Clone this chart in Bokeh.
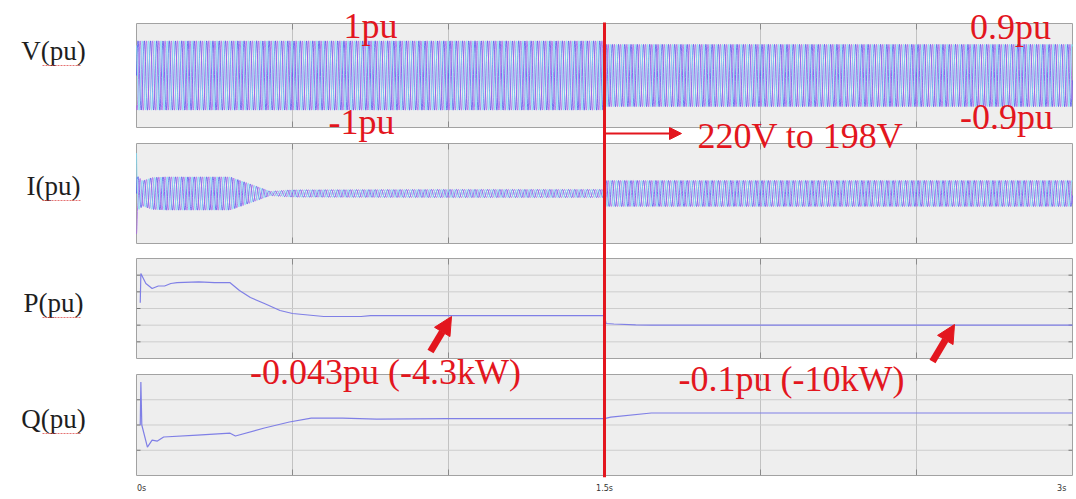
import numpy as np
from bokeh.plotting import figure
from bokeh.models import Range1d, Arrow, NormalHead, FixedTicker, CustomJSTickFormatter
from bokeh.core.properties import value
from bokeh.embed import file_html
from bokeh.resources import INLINE

# ---------------- data ----------------
time_span = [0.0, 3.0]
grid_t = [0.5, 1.0, 1.5, 2.0, 2.5]
step_time = 1.5
freq_hz = 50.0
sample_dt = 0.0007

# voltage envelope (pu)
v_env_t = [0.0, 1.5, 1.5001, 3.0]
v_env_amp = [1.0, 1.0, 0.9, 0.9]

# current envelope (pu)
i_env_t = [0.0, 0.003, 0.02, 0.05, 0.09, 0.30, 0.36, 0.43, 0.50, 1.0, 1.5, 1.5001, 1.55, 3.0]
i_env_amp = [1.4, 0.52, 0.38, 0.48, 0.50, 0.50, 0.30, 0.06, 0.11, 0.12, 0.12, 0.39, 0.39, 0.39]

# active power (pu)
p_t = [0.012, 0.014, 0.03, 0.05, 0.07, 0.09, 0.11, 0.13, 0.2, 0.25, 0.3, 0.33, 0.365,
       0.41, 0.46, 0.5, 0.6, 0.72, 0.75, 1.0, 1.3, 1.5, 1.505, 1.53, 1.6, 1.65, 2.0, 3.0]
p_val = [0.035, 0.21, 0.15, 0.12, 0.135, 0.135, 0.15, 0.155, 0.16, 0.155, 0.155, 0.108, 0.066,
         0.03, -0.012, -0.03, -0.048, -0.048, -0.043, -0.043, -0.043, -0.043, -0.09, -0.093,
         -0.098, -0.1, -0.1, -0.1]

# reactive power (pu)
q_t = [0.012, 0.014, 0.017, 0.035, 0.05, 0.067, 0.087, 0.195, 0.3, 0.317, 0.41, 0.49,
       0.56, 0.66, 0.77, 1.0, 1.5, 1.52, 1.65, 2.0, 3.0]
q_val = [0.0, 0.34, 0.0, -0.175, -0.12, -0.127, -0.095, -0.08, -0.065, -0.087, -0.024, 0.024,
         0.055, 0.055, 0.047, 0.05, 0.05, 0.063, 0.095, 0.095, 0.095]

p_grid = [-0.2, -0.1, 0.0, 0.1, 0.2]
q_grid = [-0.2, 0.0, 0.2]
x_ticks = [0, 1.5, 3]
panel_labels = ["V(pu)", "I(pu)", "P(pu)", "Q(pu)"]

ann_text = ["1pu", "-1pu", "0.9pu", "-0.9pu", "220V to 198V",
            "-0.043pu (-4.3kW)", "-0.1pu (-10kW)"]

# ---------------- layout (pixel rows/columns of the 1076x499 page) ----------------
W, H = 1076, 499
ROW_TOP, ROW_BOT = 0, 477           # page rows covered by the plot frame
X0_PX, PX_PER_S = 136, 312.0        # page column of t=0, pixels per second

panels = {  # name: (top row, bottom row, vmin, vmax)
    "V": (23, 127, -1.5, 1.5),
    "I": (143, 243, -1.5, 1.5),
    "P": (258, 358, -0.3, 0.3),
    "Q": (374, 475, -0.4, 0.4),
}


def t_of(px):
    return (px - X0_PX) / PX_PER_S


def panel_range(top, bot, vmin, vmax):
    s = (vmax - vmin) / (bot - top)
    return Range1d(start=vmin - (ROW_BOT - bot) * s, end=vmax + (top - ROW_TOP) * s)


p = figure(width=W, height=H, output_backend="svg", toolbar_location=None,
           x_range=Range1d(t_of(0), t_of(W)),
           y_range=Range1d(ROW_BOT, ROW_TOP),
           y_axis_location=None, min_border_left=0, min_border_right=0,
           min_border_top=0, min_border_bottom=H - ROW_BOT,
           background_fill_color="white", border_fill_color="white",
           outline_line_color=None)
p.grid.visible = False

for name, (top, bot, vmin, vmax) in panels.items():
    p.extra_y_ranges[name] = panel_range(top, bot, vmin, vmax)

t0, t1 = time_span
tick_len_v = 6  # px
for name, (top, bot, vmin, vmax) in panels.items():
    s = (vmax - vmin) / (bot - top)
    p.quad(left=[t0], right=[t1], bottom=[vmin], top=[vmax], y_range_name=name,
           fill_color="#eeeeee", line_color="#a2a2a2", line_width=1)
    p.segment(x0=grid_t, x1=grid_t, y0=[vmin] * len(grid_t), y1=[vmax] * len(grid_t),
              y_range_name=name, line_color="#c2c2c2", line_width=1)
    p.segment(x0=grid_t, x1=grid_t, y0=[vmin] * len(grid_t),
              y1=[vmin + tick_len_v * s] * len(grid_t),
              y_range_name=name, line_color="#8a8a8a", line_width=1)
    p.segment(x0=grid_t, x1=grid_t, y0=[vmax] * len(grid_t),
              y1=[vmax - tick_len_v * s] * len(grid_t),
              y_range_name=name, line_color="#8a8a8a", line_width=1)

for name, gy in (("P", p_grid), ("Q", q_grid)):
    n = len(gy)
    p.segment(x0=[t0] * n, x1=[t1] * n, y0=gy, y1=gy, y_range_name=name,
              line_color="#cdcdcd", line_width=1)
    tl = 4 / PX_PER_S
    p.segment(x0=[t0] * n, x1=[t0 + tl] * n, y0=gy, y1=gy, y_range_name=name,
              line_color="#777777", line_width=1)
    p.segment(x0=[t1 - tl] * n, x1=[t1] * n, y0=gy, y1=gy, y_range_name=name,
              line_color="#777777", line_width=1)

# three-phase waveforms
tw = np.arange(t0, t1, sample_dt)
phase_cols = ["#5252f0", "#aa64ea", "#7cdaf6"]
phase_shift = [0.0, -2 * np.pi / 3, 2 * np.pi / 3]
for name, et, ea in (("V", v_env_t, v_env_amp), ("I", i_env_t, i_env_amp)):
    env = np.interp(tw, et, ea)
    for col, ph in zip(phase_cols, phase_shift):
        p.line(tw, env * np.sin(2 * np.pi * freq_hz * tw + ph), y_range_name=name,
               line_color=col, line_width=0.8)

p.line(p_t, p_val, y_range_name="P", line_color="#7f7fe6", line_width=1.2)
p.line(q_t, q_val, y_range_name="Q", line_color="#7f7fe6", line_width=1.2)

# left labels
lab_rows = [50, 185, 302, 418]
p.text(x=[t_of(53)] * 4, y=lab_rows, text=panel_labels, text_font=value("Liberation Serif"),
       text_font_size="27px", text_color="#1e1e1e", text_align="center",
       text_baseline="alphabetic")
for r in lab_rows:
    p.line([t_of(42), t_of(81)], [r + 15, r + 15], line_color="#e05050", line_width=1.2,
           line_dash="2 1", line_alpha=0.8)

# red step marker
RED = "#e3161e"
p.segment(x0=[step_time], x1=[step_time], y0=[22], y1=[477], line_color=RED, line_width=3)

ann_x = [t_of(370), t_of(361), t_of(1010), t_of(1006), t_of(800), t_of(385), t_of(791)]
ann_y = [25, 121, 26, 116, 135, 371, 378]
p.text(x=ann_x, y=ann_y, text=ann_text, text_font=value("Liberation Serif"),
       text_font_size="36px", text_color=RED, text_align="center",
       text_baseline="alphabetic")

p.add_layout(Arrow(end=NormalHead(size=12, fill_color=RED, line_color=RED),
                   x_start=step_time, y_start=133, x_end=t_of(681), y_end=133,
                   line_color=RED, line_width=2))
for (xs, ys, xe, ye) in ((t_of(430), 351, t_of(451), 316), (t_of(932), 361, t_of(954), 324)):
    p.add_layout(Arrow(end=NormalHead(size=18, fill_color=RED, line_color=RED),
                       x_start=xs, y_start=ys, x_end=xe, y_end=ye,
                       line_color=RED, line_width=7))

# x axis
ax = p.xaxis[0]
ax.ticker = FixedTicker(ticks=x_ticks)
ax.formatter = CustomJSTickFormatter(code="""
const pad = '\\u00a0\\u00a0\\u00a0\\u00a0';
if (tick == 0) return pad + tick + 's';
if (tick == 3) return tick + 's' + pad;
return tick + 's';
""")
ax.axis_line_color = None
ax.major_tick_line_color = None
ax.minor_tick_line_color = None
ax.major_tick_out = 0
ax.major_label_standoff = 6
ax.major_label_text_font = "DejaVu Sans"
ax.major_label_text_font_size = "8px"
ax.major_label_text_color = "#333333"

open("out.html", "w").write(file_html(p, INLINE))
